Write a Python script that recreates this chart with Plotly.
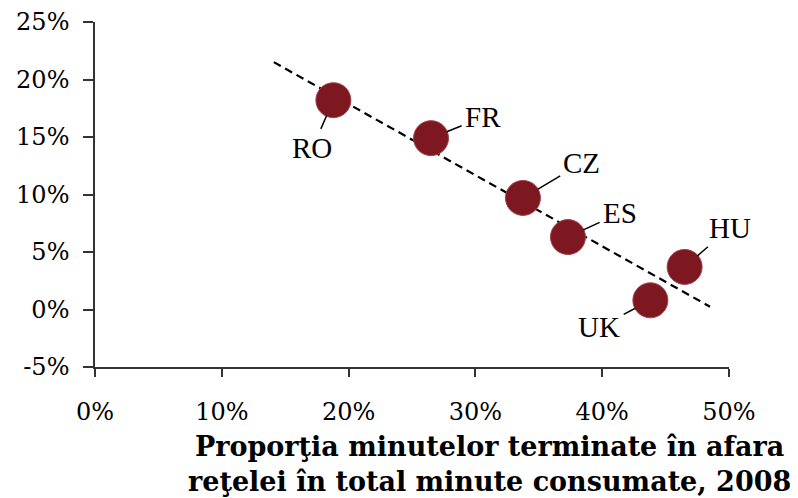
import numpy as np
import plotly.graph_objects as go

countries = ["RO", "FR", "CZ", "ES", "UK", "HU"]
offnet_share = [18.8, 26.5, 33.75, 37.3, 43.8, 46.5]   # x, %
y_values = [18.2, 14.9, 9.7, 6.3, 0.8, 3.7]            # y, %
trend_x = [14.1, 48.5]
x_ticks = [0, 10, 20, 30, 40, 50]
y_ticks = [-5, 0, 5, 10, 15, 20, 25]

# label offsets (pixels) for leader lines
label_ax = [-21, 52, 59, 52, -51, 45]
label_ay = [48, -21, -35, -24, 27, -39]

slope, intercept = np.polyfit(offnet_share, y_values, 1)
trend_y = [slope * v + intercept for v in trend_x]

fig = go.Figure()
fig.add_trace(go.Scatter(x=trend_x, y=trend_y, mode="lines",
                         line=dict(color="black", width=2.2, dash="8px,5px"),
                         hoverinfo="skip", showlegend=False))
fig.add_trace(go.Scatter(x=offnet_share, y=y_values, mode="markers",
                         marker=dict(size=35, color="#7E1820",
                                     line=dict(width=1, color="#A0454A")),
                         showlegend=False))

for c, xv, yv, ax, ay in zip(countries, offnet_share, y_values, label_ax, label_ay):
    fig.add_annotation(x=xv, y=yv, text=c, showarrow=True, ax=ax, ay=ay,
                       arrowhead=0, arrowwidth=1.5, arrowcolor="black",
                       standoff=17, startstandoff=2,
                       font=dict(family="Liberation Serif", size=29, color="black"))

fig.add_annotation(xref="paper", yref="paper", x=0.623, y=-0.18,
                   xanchor="center", yanchor="top", showarrow=False,
                   text="<b>Proporţia minutelor terminate în afara<br>reţelei în total minute consumate, 2008</b>",
                   align="center",
                   font=dict(family="DejaVu Serif", size=27, color="black"))

axis_common = dict(showgrid=False, zeroline=False, showline=True,
                   linecolor="#333333", linewidth=1.5,
                   ticks="outside", tickcolor="#333333", tickwidth=1.5,
                   tickfont=dict(family="DejaVu Serif", size=24, color="black"))

fig.update_xaxes(range=[0, 50], tickvals=x_ticks,
                 ticktext=[f"{v}%" for v in x_ticks], ticklen=8,
                 ticklabelstandoff=14, **axis_common)
fig.update_yaxes(range=[-5, 25], tickvals=y_ticks,
                 ticktext=[f"{v}%" for v in y_ticks], ticklen=10,
                 ticklabelstandoff=9, **axis_common)

fig.update_layout(width=798, height=498, plot_bgcolor="white", paper_bgcolor="white",
                  margin=dict(l=87, r=77, t=14, b=139, autoexpand=False))

fig.write_html("out.html")
